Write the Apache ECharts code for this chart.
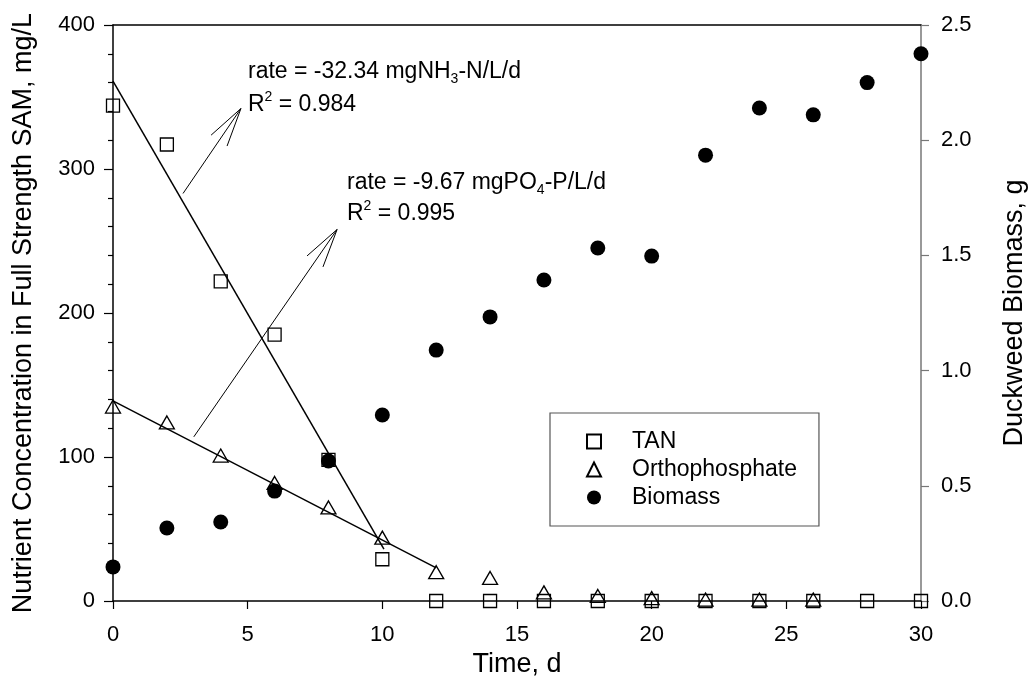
<!DOCTYPE html>
<html>
<head>
<meta charset="utf-8">
<script src="https://cdn.jsdelivr.net/npm/echarts@6/dist/echarts.min.js"></script>
<style>html,body{margin:0;padding:0;background:#fff;overflow:hidden}#c{width:1029px;height:681px}</style>
</head>
<body>
<div id="c"></div>
<script>
// ---- data ----
const days = [0, 2, 4, 6, 8, 10, 12, 14, 16, 18, 20, 22, 24, 26, 28, 30];
const tanValues = [344, 317, 222, 185, 98, 29, 0, 0, 0, 0, 0, 0, 0, 0, 0, 0];
const po4Days = [0, 2, 4, 6, 8, 10, 12, 14, 16, 18, 20, 22, 24, 26];
const po4Values = [135, 124, 101, 82, 65, 44, 20, 16, 6, 3.5, 2, 1, 1, 1];
const biomassValues = [0.148, 0.317, 0.343, 0.477, 0.608, 0.807, 1.089, 1.233, 1.393, 1.532, 1.497, 1.935, 2.14, 2.11, 2.25, 2.375];
const tanFit = [[0, 361], [10.06, 36]];
const po4Fit = [[0, 139], [12, 23]];
const tanArrow = [2.6, 283, 4.75, 342];
const po4Arrow = [3.0, 114, 8.32, 258];
const seriesNames = ['TAN', 'Orthophosphate', 'Biomass'];
const xTitle = 'Time, d';
const yLeftTitle = 'Nutrient Concentration in Full Strength SAM, mg/L';
const yRightTitle = 'Duckweed Biomass, g';

const FONT = '"Liberation Sans", Arial, sans-serif';
const chart = echarts.init(document.getElementById('c'), null, {renderer: 'canvas'});

function arrowItem(params, api) {
  const p1 = api.coord([api.value(0), api.value(1)]);
  const p2 = api.coord([api.value(2), api.value(3)]);
  const ang = Math.atan2(p1[1] - p2[1], p1[0] - p2[0]);
  const L = 40, a = 14 * Math.PI / 180;
  const b1 = [p2[0] + L * Math.cos(ang + a), p2[1] + L * Math.sin(ang + a)];
  const b2 = [p2[0] + L * Math.cos(ang - a), p2[1] + L * Math.sin(ang - a)];
  const st = {stroke: '#000', lineWidth: 1};
  return {type: 'group', children: [
    {type: 'line', shape: {x1: p1[0], y1: p1[1], x2: p2[0], y2: p2[1]}, style: st},
    {type: 'line', shape: {x1: p2[0], y1: p2[1], x2: b1[0], y2: b1[1]}, style: st},
    {type: 'line', shape: {x1: p2[0], y1: p2[1], x2: b2[0], y2: b2[1]}, style: st}
  ]};
}

const rich = {
  m: {fontSize: 23, fontFamily: FONT, color: '#000', lineHeight: 30},
  sub: {fontSize: 14, fontFamily: FONT, color: '#000', lineHeight: 12, verticalAlign: 'bottom'},
  sup: {fontSize: 14, fontFamily: FONT, color: '#000', lineHeight: 14, verticalAlign: 'top'}
};
function txt(x, y, t) {
  return {type: 'text', left: x, top: y, z: 100,
    style: {text: t, rich: rich, font: '23px ' + FONT, fill: '#000'}};
}

const option = {
  backgroundColor: '#fff',
  animation: false,
  textStyle: {fontFamily: FONT},
  grid: {left: 113, right: 108, top: 25, bottom: 80, containLabel: false, outerBoundsMode: 'none'},
  xAxis: [{
    type: 'value', min: 0, max: 30, interval: 5,
    name: xTitle, nameLocation: 'middle', nameGap: 50,
    nameTextStyle: {fontSize: 27, color: '#000', fontFamily: FONT},
    axisLine: {show: true, onZero: false, lineStyle: {color: '#000', width: 1.5}},
    axisTick: {show: true, length: 8, lineStyle: {color: '#000', width: 1.2}},
    axisLabel: {fontSize: 22, color: '#000', margin: 23, fontFamily: FONT},
    splitLine: {show: false}
  }, {
    type: 'value', min: 0, max: 30, position: 'top',
    axisLine: {show: true, onZero: false, lineStyle: {color: '#000', width: 1.5}},
    axisTick: {show: false}, axisLabel: {show: false}, splitLine: {show: false}
  }],
  yAxis: [{
    type: 'value', min: 0, max: 400, interval: 100,
    name: yLeftTitle, nameLocation: 'middle', nameGap: 76, nameRotate: 90,
    nameTextStyle: {fontSize: 27, color: '#000', fontFamily: FONT},
    axisLine: {show: true, onZero: false, lineStyle: {color: '#000', width: 1.5}},
    axisTick: {show: true, length: 9, lineStyle: {color: '#000', width: 1.2}},
    minorTick: {show: true, splitNumber: 5, length: 5, lineStyle: {color: '#000', width: 1.2}},
    axisLabel: {fontSize: 22, color: '#000', margin: 18, fontFamily: FONT},
    splitLine: {show: false}
  }, {
    type: 'value', min: 0, max: 2.5, interval: 0.5, position: 'right',
    name: yRightTitle, nameLocation: 'middle', nameGap: 80, nameRotate: 90,
    nameTextStyle: {fontSize: 27, color: '#000', fontFamily: FONT},
    axisLine: {show: true, onZero: false, lineStyle: {color: '#777', width: 1.5}},
    axisTick: {show: true, length: 8, lineStyle: {color: '#777', width: 1.2}},
    axisLabel: {fontSize: 22, color: '#000', margin: 20, fontFamily: FONT,
      formatter: v => v.toFixed(1)},
    splitLine: {show: false}
  }],
  legend: {
    data: seriesNames, orient: 'vertical', left: 550, top: 413,
    padding: [17, 22, 17, 36], itemWidth: 14, itemHeight: 14, itemGap: 5,
    borderColor: '#555', borderWidth: 1.2, borderRadius: 0,
    textStyle: {fontSize: 23, color: '#000', fontFamily: FONT, lineHeight: 23, padding: [0, 0, 0, 26]},
    selectedMode: false
  },
  series: [
    {type: 'line', data: tanFit, showSymbol: false, symbol: 'none', silent: true,
      lineStyle: {color: '#000', width: 1.5}, z: 3},
    {type: 'line', data: po4Fit, showSymbol: false, symbol: 'none', silent: true,
      lineStyle: {color: '#000', width: 1.5}, z: 3},
    {type: 'custom', renderItem: arrowItem, data: [tanArrow, po4Arrow],
      encode: {x: [0, 2], y: [1, 3]}, silent: true, z: 3},
    {name: seriesNames[0], type: 'scatter', symbol: 'rect', symbolSize: 13,
      data: days.map((d, i) => [d, tanValues[i]]),
      itemStyle: {color: 'rgba(255,255,255,0)', borderColor: '#000', borderWidth: 1.3, opacity: 1}, z: 5},
    {name: seriesNames[1], type: 'scatter', symbol: 'triangle', symbolSize: [15, 13],
      data: po4Days.map((d, i) => [d, po4Values[i]]),
      itemStyle: {color: 'rgba(255,255,255,0)', borderColor: '#000', borderWidth: 1.3, opacity: 1}, z: 5},
    {name: seriesNames[2], type: 'scatter', symbol: 'circle', symbolSize: 15, yAxisIndex: 1,
      data: days.map((d, i) => [d, biomassValues[i]]),
      itemStyle: {color: '#000', opacity: 1}, z: 6}
  ],
  graphic: [
    txt(248, 60, '{m|rate = -32.34 mgNH}{sub|3}{m|-N/L/d}'),
    txt(248, 90, '{m|R}{sup|2}{m| = 0.984}'),
    txt(347, 171, '{m|rate = -9.67 mgPO}{sub|4}{m|-P/L/d}'),
    txt(347, 199, '{m|R}{sup|2}{m| = 0.995}')
  ]
};
chart.setOption(option);
</script>
</body>
</html>
